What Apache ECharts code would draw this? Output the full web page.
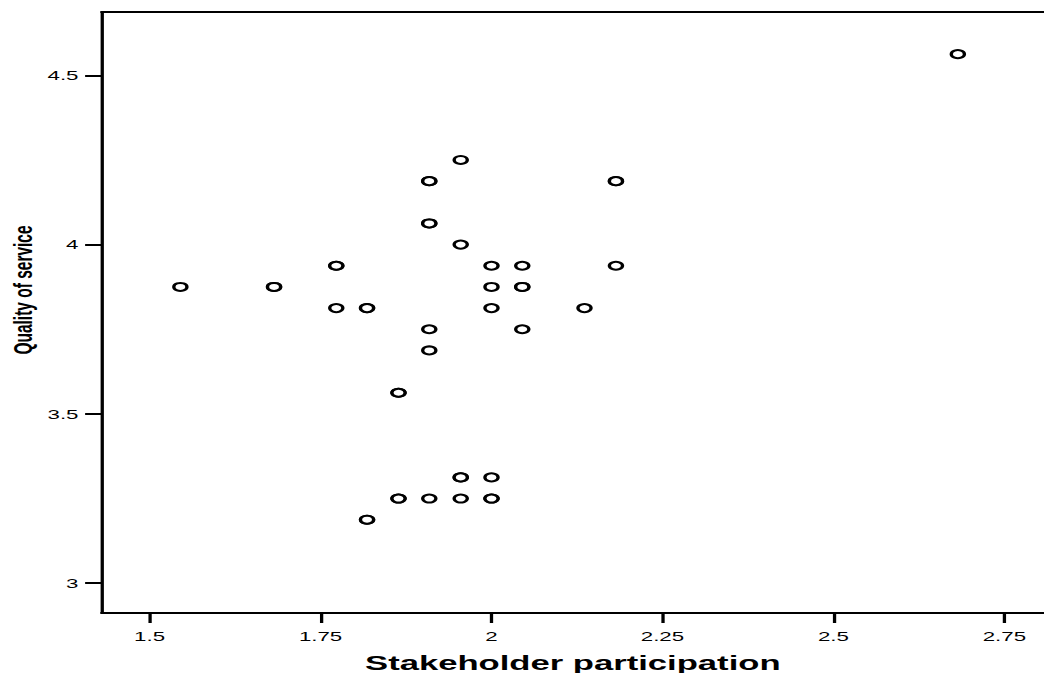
<!DOCTYPE html>
<html>
<head>
<meta charset="utf-8">
<script src="https://cdn.jsdelivr.net/npm/echarts@6/dist/echarts.min.js"></script>
<style>
html,body{margin:0;padding:0;background:#fff;}
#wrap{width:1044px;height:673px;overflow:hidden;background:#fff;}
#c{width:633px;height:673px;transform:scaleX(1.6493);transform-origin:0 0;}
</style>
</head>
<body>
<div id="wrap"><div id="c"></div></div>
<script>
// Stakeholder participation (x) and Quality of service (y), one entry per respondent
var xValues = [2.682, 1.955, 1.909, 1.909, 2.182, 2.182, 1.909, 1.909, 1.955,
  1.773, 1.773, 2.000, 2.045, 2.182,
  1.545, 1.682, 1.682, 2.000, 2.045, 2.045,
  1.773, 1.818, 1.818, 2.000, 2.136,
  1.909, 2.045, 1.909, 1.864, 1.864,
  1.955, 1.955, 2.000,
  1.864, 1.864, 1.909, 1.955, 2.000, 2.000,
  1.818, 1.818];
var yValues = [4.5625, 4.25, 4.1875, 4.1875, 4.1875, 4.1875, 4.0625, 4.0625, 4.0,
  3.9375, 3.9375, 3.9375, 3.9375, 3.9375,
  3.875, 3.875, 3.875, 3.875, 3.875, 3.875,
  3.8125, 3.8125, 3.8125, 3.8125, 3.8125,
  3.75, 3.75, 3.6875, 3.5625, 3.5625,
  3.3125, 3.3125, 3.3125,
  3.25, 3.25, 3.25, 3.25, 3.25, 3.25,
  3.1875, 3.1875];
var xTicks = [1.5, 1.75, 2, 2.25, 2.5, 2.75];
var yTicks = [3, 3.5, 4, 4.5];
var xTitle = 'Stakeholder participation';
var yTitle = 'Quality of service';

var points = xValues.map(function (v, i) { return [v, yValues[i]]; });
var FONT = '"Liberation Sans", Arial, sans-serif';
var chart = echarts.init(document.getElementById('c'), null, {renderer: 'svg'});
chart.setOption({
  animation: false,
  backgroundColor: '#fff',
  grid: {left: 61.6, right: 0, top: 12, bottom: 60, containLabel: false, outerBoundsMode: 'none'},
  xAxis: [{
    type: 'value', position: 'bottom', min: 1.4298, max: 2.808,
    axisLine: {show: true, lineStyle: {color: '#000', width: 2}},
    axisTick: {show: true, length: 10, lineStyle: {color: '#000', width: 2}, customValues: xTicks},
    axisLabel: {customValues: xTicks, fontSize: 13.5, color: '#000', margin: 16, fontFamily: FONT},
    splitLine: {show: false},
    name: xTitle, nameLocation: 'middle', nameGap: 39,
    nameTextStyle: {fontSize: 21, fontWeight: 'bold', color: '#000', fontFamily: FONT}
  }, {
    type: 'value', position: 'top', min: 1.4298, max: 2.808,
    axisLine: {show: true, onZero: false, lineStyle: {color: '#000', width: 2}},
    axisTick: {show: false}, axisLabel: {show: false}, splitLine: {show: false}
  }],
  yAxis: {
    type: 'value', min: 2.912, max: 4.687,
    axisLine: {show: true, lineStyle: {color: '#000', width: 2}},
    axisTick: {show: true, length: 10, lineStyle: {color: '#000', width: 2}, customValues: yTicks},
    axisLabel: {customValues: yTicks, fontSize: 13.5, color: '#000', margin: 14, fontFamily: FONT},
    splitLine: {show: false}
  },
  graphic: [{
    type: 'text', x: 13.6, y: 290, rotation: Math.PI / 2,
    style: {text: yTitle, fontSize: 15.5, fontWeight: 'bold', fill: '#000', fontFamily: FONT,
      textAlign: 'center', textVerticalAlign: 'middle'}
  }],
  series: [{
    type: 'scatter', xAxisIndex: 0, data: points,
    symbol: 'circle', symbolSize: 8,
    itemStyle: {color: '#fff', borderColor: '#000', borderWidth: 2, opacity: 1},
    emphasis: {disabled: true}
  }]
});
</script>
</body>
</html>
